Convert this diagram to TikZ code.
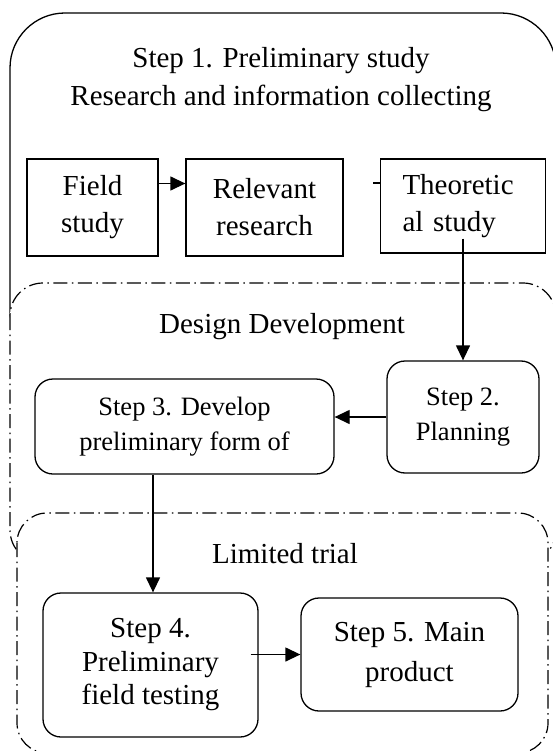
\documentclass[tikz,border=0pt]{standalone}
\usepackage{fontspec}
\setmainfont{Liberation Serif}
\usetikzlibrary{calc,arrows.meta}

\tikzset{
  heading/.style={align=center, inner sep=0pt, font={\fontsize{29}{38}\selectfont}},
  plainbox/.style={draw, line width=1.3pt, inner sep=0pt, align=center, fill=white,
    font={\fontsize{29}{37}\selectfont}},
  stepbox/.style={draw, line width=1.3pt, rounded corners=18pt, inner sep=0pt,
    align=center, fill=white},
  dashdot/.style={line width=1.2pt, dash pattern=on 14pt off 4.5pt on 1.5pt off 4.5pt, fill=white},
  arr/.style={line width=1.3pt, -{Triangle[length=15pt,width=14pt]}},
}

\begin{document}
\begin{tikzpicture}[x=1pt, y=-1pt]

\useasboundingbox (0,0) rectangle (553,751);

% Frames, each one covers the bottom of the one before
\draw[line width=1.3pt, rounded corners=55pt, fill=white] (10,13) rectangle (556,365);
\draw[dashdot, rounded corners=33pt] (10,283) rectangle (556,563);
\draw[dashdot, rounded corners=30pt] (17,513) rectangle (548,753);

% Frame titles
\node[heading] (studyTitle) at (281,80) {Step 1. Preliminary study\\Research and information collecting};
\node[heading, anchor=base] (designTitle) at (282,333) {Design Development};
\node[heading, anchor=base] (trialTitle) at (285,563) {Limited trial};

% Step 1 boxes
\node[plainbox, minimum width=131pt, minimum height=97pt] (field) at (92.5,207.5) {Field\\study};
\node[plainbox, minimum width=157pt, minimum height=97pt] (relevant) at (264.5,207.5) {Relevant\\research};
\node[plainbox, minimum width=165pt, minimum height=94pt, text width=121pt, align=left] (theory) at (463,206) {Theoretic\\al study};

% Steps 2 to 5
\node[stepbox, font={\fontsize{26.5}{35}\selectfont}, minimum width=152pt, minimum height=112pt] (planning) at (463,417) {Step 2.\\Planning};
\node[stepbox, font={\fontsize{26.5}{35}\selectfont}, minimum width=299pt, minimum height=95pt] (develop) at (184.5,426.5) {Step 3. Develop\\preliminary form of};
\node[stepbox, font={\fontsize{29}{33.5}\selectfont}, minimum width=215pt, minimum height=144pt] (fieldtest) at (150.5,665) {Step 4.\\Preliminary\\field testing};
\node[stepbox, font={\fontsize{29}{40}\selectfont}, minimum width=217pt, minimum height=113pt] (mainprod) at (409.5,654.5) {Step 5. Main\\product};

% Connectors
\draw[arr] ([yshift=24pt]field.east) -- ([yshift=24pt]relevant.west);
\coordinate (stub) at ([xshift=-7pt,yshift=23pt]theory.west);
\draw[line width=1.3pt] ([yshift=23pt]theory.west) -- (stub);
\draw[arr] ([yshift=15pt]theory.south) -- (planning.north);
\draw[arr] (planning.west) -- (planning.west -| develop.east);
\coordinate (drop) at ([xshift=2.5pt]fieldtest.north);
\draw[arr] (drop |- develop.south) -- (drop);
\coordinate (launch) at ([xshift=-8pt]fieldtest.east);
\draw[arr] (launch |- mainprod.west) -- (mainprod.west);

\end{tikzpicture}
\end{document}
